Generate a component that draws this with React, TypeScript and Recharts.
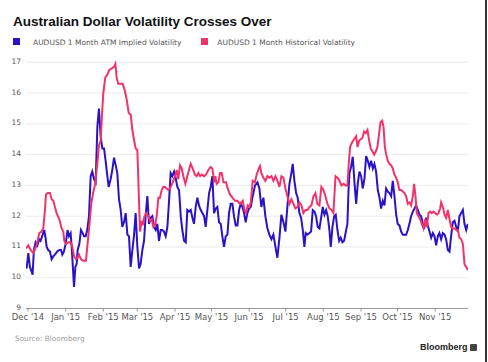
import React from 'react'
import { LineChart, Line, XAxis, YAxis, CartesianGrid } from 'recharts'

// x values are days after 1 Dec 2014, y values are vol points
const impliedVol: [number, number][] = [
  [-1.6, 10.38], [-1.1, 10.3], [0.3, 10.8], [1.6, 10.35], [3.0, 10.2], [3.8, 10.1], [4.9, 10.9], [6.3, 11.15], [7.7, 11.05], [9.3, 11.25],
  [10.4, 11.2], [12.1, 11.4], [13.4, 11.55], [14.5, 11.3], [15.4, 11.0], [16.7, 10.9], [18.1, 10.85], [19.5, 10.6], [20.9, 10.7], [22.2, 10.75],
  [24.1, 10.85], [25.8, 10.9], [27.2, 10.9], [28.3, 10.75], [29.6, 10.85], [31.0, 11.1], [32.6, 11.55], [33.7, 11.35], [35.1, 11.45], [35.9, 11.05],
  [36.8, 10.45], [37.9, 9.7], [39.0, 10.35], [40.1, 10.45], [40.9, 10.9], [42.3, 11.1], [43.6, 11.55], [45.0, 11.45], [46.1, 11.35], [47.5, 11.35],
  [48.8, 11.55], [50.2, 12.0], [51.6, 13.3], [52.9, 13.45], [54.3, 13.2], [55.7, 13.1], [57.1, 14.9], [58.4, 15.5], [59.8, 14.6], [61.2, 14.2],
  [62.6, 14.2], [63.9, 13.8], [65.3, 13.3], [66.4, 12.95], [68.0, 13.2], [69.4, 13.5], [70.8, 13.9], [72.2, 13.65], [73.5, 13.4], [74.9, 12.55],
  [76.3, 12.2], [77.6, 11.65], [79.0, 11.8], [80.4, 12.1], [81.8, 11.4], [83.1, 11.35], [84.5, 10.35], [85.9, 10.9], [87.2, 11.35], [88.6, 12.1],
  [90.0, 11.0], [91.4, 10.3], [92.7, 10.45], [94.1, 10.9], [95.5, 11.2], [96.8, 12.0], [98.2, 12.65], [99.6, 11.75], [101.0, 11.95], [102.3, 12.0],
  [103.7, 11.65], [105.1, 11.55], [106.4, 11.75], [107.8, 11.2], [109.2, 11.55], [110.6, 11.55], [111.9, 11.5], [113.3, 11.35], [114.7, 11.65], [116.0, 12.45],
  [117.4, 13.4], [118.8, 13.3], [120.2, 13.45], [121.5, 13.25], [122.9, 12.95], [124.3, 12.85], [125.7, 12.0], [127.0, 11.55], [128.4, 11.2], [129.8, 11.15],
  [131.1, 12.2], [132.5, 12.15], [133.9, 12.2], [135.3, 11.95], [136.6, 11.75], [138.0, 12.3], [139.4, 12.6], [140.7, 12.35], [142.1, 12.2], [143.5, 12.1],
  [144.9, 12.0], [146.2, 11.65], [147.6, 12.2], [149.0, 12.75], [150.3, 12.95], [151.7, 13.3], [153.1, 12.1], [154.5, 12.25], [155.8, 12.3], [157.2, 11.8],
  [158.6, 11.75], [159.9, 11.35], [161.3, 11.0], [162.7, 11.35], [164.1, 11.4], [165.4, 12.1], [166.8, 12.4], [168.2, 12.4], [169.5, 12.0], [170.9, 11.7],
  [172.3, 11.7], [173.7, 12.2], [175.0, 12.4], [176.4, 12.3], [177.8, 12.1], [179.1, 11.8], [180.5, 12.1], [181.9, 12.25], [183.3, 12.3], [184.9, 12.65],
  [186.8, 13.0], [188.8, 13.1], [190.4, 12.9], [192.0, 12.3], [193.7, 12.6], [195.3, 12.0], [197.0, 11.6], [198.6, 11.4], [200.3, 11.25], [201.9, 11.4],
  [203.6, 11.0], [205.2, 10.65], [206.9, 11.3], [208.5, 12.05], [210.2, 11.8], [211.8, 11.5], [213.4, 12.3], [215.1, 13.05], [216.7, 13.4], [217.8, 13.7],
  [219.2, 13.15], [220.6, 12.75], [221.9, 12.6], [223.3, 12.1], [224.7, 11.95], [226.1, 11.55], [227.4, 11.0], [228.5, 11.45], [229.9, 11.4], [231.6, 11.45],
  [232.9, 11.5], [234.3, 12.2], [235.7, 12.15], [237.0, 12.0], [238.4, 11.65], [239.8, 11.6], [241.2, 11.95], [242.5, 12.3], [243.9, 12.05], [245.3, 12.2],
  [246.6, 12.0], [248.0, 11.55], [249.1, 11.0], [250.5, 11.65], [251.9, 12.0], [253.2, 12.05], [254.6, 11.55], [256.0, 11.2], [257.3, 11.3], [258.7, 11.15],
  [260.1, 11.2], [261.5, 11.5], [262.8, 11.75], [263.7, 12.85], [264.5, 13.4], [265.8, 13.6], [267.2, 13.93], [268.6, 13.1], [270.0, 12.4], [271.3, 13.05],
  [272.7, 13.45], [274.1, 13.3], [275.4, 12.9], [276.8, 13.2], [278.2, 13.95], [279.6, 13.8], [280.9, 13.6], [282.3, 13.8], [283.7, 13.55], [285.0, 13.7],
  [286.4, 13.45], [287.8, 12.85], [289.2, 12.6], [290.5, 12.25], [291.9, 12.5], [293.3, 12.35], [294.6, 12.9], [296.0, 12.8], [297.4, 12.75], [298.8, 12.65],
  [300.1, 13.15], [301.5, 12.65], [302.9, 12.05], [304.2, 11.75], [305.6, 11.7], [307.0, 11.5], [308.4, 11.4], [309.7, 11.4], [311.1, 11.4], [312.5, 11.55],
  [313.8, 11.75], [315.2, 12.0], [316.6, 12.15], [318.0, 12.25], [319.3, 12.35], [320.7, 12.2], [322.1, 12.05], [323.5, 12.0], [324.8, 11.75], [326.2, 11.65],
  [327.6, 11.95], [328.9, 11.7], [330.3, 11.5], [331.7, 11.3], [333.1, 11.45], [334.4, 11.35], [335.8, 11.05], [337.2, 11.35], [338.5, 11.45], [339.9, 11.25],
  [341.3, 11.45], [342.7, 11.4], [344.0, 11.25], [345.4, 10.9], [346.8, 10.85], [348.1, 11.35], [349.5, 11.8], [350.9, 11.85], [352.3, 11.65], [353.6, 11.5],
  [355.0, 12.0], [356.4, 12.1], [357.8, 12.2], [359.1, 11.75], [360.5, 11.55], [361.9, 11.75],
]

const historicalVol: [number, number][] = [
  [-1.6, 10.95], [0.3, 11.05], [2.2, 10.9], [4.4, 10.8], [6.6, 11.0], [8.0, 11.2], [9.3, 11.45], [11.2, 11.5], [12.6, 11.6], [14.0, 12.2],
  [14.8, 12.7], [16.2, 12.75], [18.1, 12.75], [19.5, 12.55], [20.9, 12.5], [22.2, 12.3], [23.6, 12.1], [25.8, 11.9], [27.7, 11.6], [29.1, 11.5],
  [29.9, 11.2], [31.3, 11.1], [33.2, 11.15], [35.1, 11.15], [36.5, 11.0], [37.9, 10.7], [39.5, 10.6], [40.9, 10.65], [42.0, 10.75], [43.6, 10.6],
  [45.5, 10.55], [47.7, 10.55], [48.8, 11.0], [50.5, 11.7], [52.1, 12.4], [53.8, 12.8], [55.1, 13.0], [56.5, 13.5], [57.3, 13.8], [58.4, 14.3],
  [59.8, 14.45], [60.9, 15.3], [62.0, 16.0], [63.6, 16.5], [65.3, 16.6], [66.9, 16.75], [68.9, 16.8], [70.8, 16.85], [71.9, 16.95], [73.0, 16.5],
  [74.3, 16.3], [76.3, 16.3], [77.9, 16.3], [79.6, 16.1], [81.2, 15.8], [82.9, 15.35], [84.5, 15.3], [85.9, 14.8], [87.2, 14.5], [88.6, 14.2],
  [90.0, 14.15], [91.1, 12.8], [92.2, 11.5], [93.6, 11.85], [94.4, 11.7], [95.5, 11.95], [97.1, 12.1], [99.0, 12.0], [100.4, 11.85], [101.8, 11.9],
  [103.2, 11.65], [104.5, 11.7], [105.9, 12.0], [107.3, 12.6], [108.6, 12.6], [110.0, 12.85], [111.4, 12.95], [112.8, 12.95], [114.1, 12.9], [115.5, 12.85],
  [116.9, 12.9], [119.1, 13.1], [121.0, 13.3], [122.4, 13.5], [123.7, 13.2], [125.1, 13.65], [126.5, 13.55], [127.8, 13.3], [129.5, 13.05], [131.1, 13.3],
  [132.5, 13.5], [133.9, 13.7], [135.5, 13.55], [137.4, 13.35], [138.8, 13.3], [140.2, 13.4], [141.6, 13.3], [142.9, 13.35], [144.9, 13.3], [146.5, 13.35],
  [148.4, 13.5], [150.3, 13.6], [151.7, 13.55], [153.4, 13.1], [154.2, 13.3], [155.3, 13.05], [156.7, 13.1], [158.0, 13.4], [159.4, 13.4], [160.8, 13.1],
  [163.0, 13.1], [164.3, 12.9], [166.3, 12.7], [168.2, 12.6], [170.4, 12.5], [172.3, 12.5], [174.5, 12.4], [176.7, 12.5], [178.1, 12.2], [179.4, 12.1],
  [180.8, 12.35], [182.2, 12.3], [183.3, 12.45], [184.9, 13.15], [186.6, 13.1], [188.2, 13.35], [189.9, 13.55], [190.9, 13.63], [192.0, 13.4], [193.7, 13.25],
  [195.3, 13.15], [197.0, 13.3], [198.6, 13.25], [200.3, 13.3], [201.9, 13.15], [203.6, 13.3], [205.2, 13.15], [206.9, 12.95], [208.5, 13.3], [210.2, 13.25],
  [211.8, 12.9], [213.4, 12.65], [215.1, 12.4], [216.7, 12.55], [218.4, 12.4], [220.0, 12.25], [221.7, 12.3], [223.3, 12.45], [225.0, 12.35], [226.6, 12.1],
  [228.3, 12.2], [229.9, 12.2], [231.6, 12.3], [233.2, 12.35], [234.9, 12.65], [236.5, 12.75], [238.1, 12.4], [239.8, 12.35], [241.4, 12.95], [243.1, 12.85],
  [244.7, 12.65], [246.4, 12.4], [248.0, 12.25], [249.7, 12.2], [251.3, 12.1], [253.0, 13.3], [254.6, 13.25], [256.3, 13.15], [257.9, 13.0], [259.6, 13.05],
  [261.2, 13.0], [262.8, 13.0], [263.9, 13.7], [265.0, 14.25], [266.7, 14.4], [268.3, 14.5], [270.0, 14.6], [271.1, 14.25], [272.4, 14.45], [273.8, 14.5],
  [275.2, 14.55], [276.5, 14.75], [277.9, 14.7], [279.3, 14.8], [280.7, 14.45], [282.0, 14.2], [283.4, 14.1], [284.8, 14.0], [286.1, 14.1], [287.5, 14.25],
  [288.9, 14.7], [290.0, 15.05], [291.4, 15.1], [292.5, 14.9], [293.6, 14.25], [294.7, 14.0], [296.0, 13.8], [297.4, 13.7], [298.8, 13.65], [300.1, 13.55],
  [301.5, 13.35], [302.9, 13.25], [304.2, 13.1], [305.6, 12.85], [307.0, 12.85], [308.4, 12.8], [309.7, 12.75], [311.1, 12.65], [312.5, 12.4], [313.8, 12.45],
  [315.2, 12.35], [316.6, 12.65], [317.7, 13.05], [318.8, 12.65], [319.9, 12.1], [321.3, 12.0], [322.6, 11.9], [324.0, 11.75], [325.4, 11.6], [326.7, 11.9],
  [328.1, 11.65], [329.5, 12.1], [330.9, 12.15], [332.2, 12.1], [333.6, 12.15], [335.0, 12.1], [336.4, 12.05], [337.7, 12.1], [339.1, 12.25], [339.9, 12.45],
  [341.3, 12.3], [342.7, 12.05], [344.0, 11.95], [345.4, 12.2], [346.8, 11.9], [348.1, 11.65], [349.5, 11.6], [350.9, 11.6], [352.3, 11.55], [353.6, 11.55],
  [355.0, 11.3], [356.4, 11.25], [357.8, 11.1], [359.1, 10.45], [360.5, 10.35], [361.9, 10.25],
]

const monthStarts = [
  '2014-12-01', '2015-01-01', '2015-02-01', '2015-03-01', '2015-04-01', '2015-05-01',
  '2015-06-01', '2015-07-01', '2015-08-01', '2015-09-01', '2015-10-01', '2015-11-01',
]
const monthLabels = [
  "Dec '14", "Jan '15", "Feb '15", "Mar '15", "Apr '15", "May '15",
  "Jun '15", "Jul '15", "Aug '15", "Sep '15", "Oct '15", "Nov '15",
]
const yTicks = [9, 10, 11, 12, 13, 14, 15, 16, 17]

const seriesNames = ['AUDUSD 1 Month ATM Implied Volatility', 'AUDUSD 1 Month Historical Volatility']
const BLUE = '#2a12c8'
const PINK = '#f2336b'

const DAY0 = Date.UTC(2014, 11, 1)
const tickDays = monthStarts.map((d) => Math.round((Date.parse(d) - DAY0) / 86400000))

const toRows = (pts: [number, number][]) => pts.map(([day, vol]) => ({ day, vol }))

const axisFont = 'DejaVu Sans, Verdana, sans-serif'

export default function App() {
  return (
    <div style={{ position: 'absolute', left: 0, top: 0, width: 488, height: 362, background: '#fff', overflow: 'hidden' }}>
      <div
        style={{
          position: 'absolute', left: 13, top: 15.3, fontFamily: 'Liberation Sans, Arial, sans-serif',
          fontWeight: 700, fontSize: 13.5, lineHeight: 1, color: '#111', whiteSpace: 'nowrap',
        }}
      >
        Australian Dollar Volatility Crosses Over
      </div>

      {/* legend */}
      <div style={{ position: 'absolute', left: 13.3, top: 37.7, width: 7, height: 7, background: BLUE }} />
      <div style={{ position: 'absolute', left: 33, top: 38.7, fontFamily: axisFont, fontSize: 7.5, lineHeight: 1, color: '#555', whiteSpace: 'nowrap' }}>
        {seriesNames[0]}
      </div>
      <div style={{ position: 'absolute', left: 201.3, top: 37.7, width: 7, height: 7, background: PINK }} />
      <div style={{ position: 'absolute', left: 217.3, top: 38.7, fontFamily: axisFont, fontSize: 7.5, lineHeight: 1, color: '#555', whiteSpace: 'nowrap' }}>
        {seriesNames[1]}
      </div>

      <LineChart
        width={488}
        height={362}
        margin={{ top: 62.3, right: 20, bottom: 33.5, left: 0 }}
        style={{ position: 'absolute', left: 0, top: 0 }}
      >
        <CartesianGrid vertical={false} stroke="#ebebeb" />
        <XAxis
          type="number"
          dataKey="day"
          domain={[-1.6, 362]}
          allowDataOverflow
          ticks={tickDays}
          interval={0}
          tickFormatter={(v: number) => monthLabels[tickDays.indexOf(v)] ?? ''}
          height={20}
          tickSize={3}
          tickMargin={2}
          axisLine={{ stroke: '#999' }}
          tickLine={{ stroke: '#999' }}
          tick={{ fill: '#555', fontSize: 8.5, fontFamily: axisFont }}
        />
        <YAxis
          type="number"
          domain={[9, 17]}
          ticks={yTicks}
          interval={0}
          width={26}
          tickSize={3}
          tickMargin={2}
          axisLine={false}
          tickLine={false}
          tick={{ fill: '#555', fontSize: 7.5, fontFamily: axisFont, dy: -1.2 }}
        />
        <Line
          data={toRows(impliedVol)}
          dataKey="vol"
          type="linear"
          stroke={BLUE}
          strokeWidth={2}
          dot={false}
          isAnimationActive={false}
        />
        <Line
          data={toRows(historicalVol)}
          dataKey="vol"
          type="linear"
          stroke={PINK}
          strokeWidth={2}
          dot={false}
          isAnimationActive={false}
        />
      </LineChart>

      <div style={{ position: 'absolute', left: 15, top: 334.8, fontFamily: axisFont, fontSize: 7.3, lineHeight: 1, color: '#999', whiteSpace: 'nowrap' }}>
        Source: Bloomberg
      </div>
      <div
        style={{
          position: 'absolute', left: 420, top: 343.4, fontFamily: 'Liberation Sans, Arial, sans-serif',
          fontWeight: 700, fontSize: 9, lineHeight: 1, color: '#222', whiteSpace: 'nowrap',
        }}
      >
        Bloomberg
      </div>
      <div style={{ position: 'absolute', left: 469.5, top: 344, width: 7, height: 7, background: '#444', borderRadius: 1 }} />
      <div style={{ position: 'absolute', left: 484.5, top: 0, width: 2, height: 362, background: '#333' }} />
    </div>
  )
}
